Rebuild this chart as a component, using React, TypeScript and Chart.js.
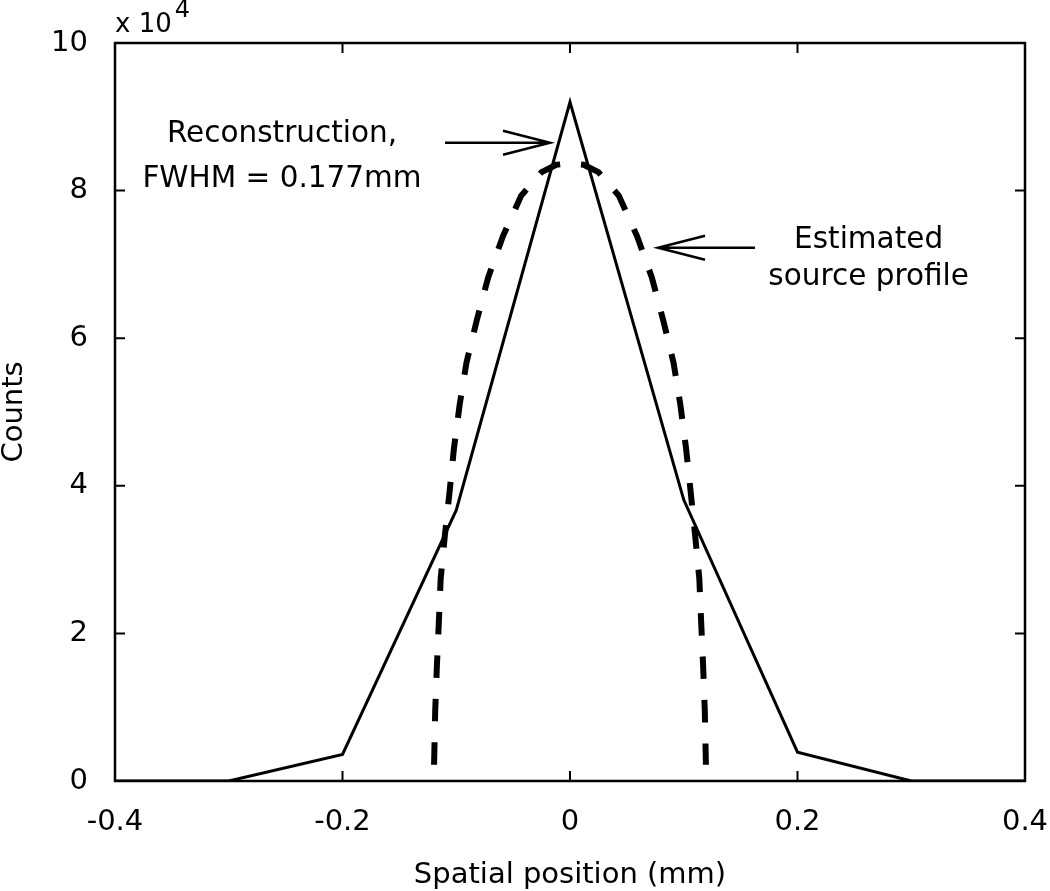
import React, { useEffect, useRef } from "react";
import { Chart, registerables } from "chart.js";

Chart.register(...registerables);

// Reconstruction profile (solid)
const reconX = [-0.4, -0.3, -0.2, -0.1, 0, 0.1, 0.2, 0.3, 0.4];
const reconY = [0, 0, 3600, 36700, 92000, 38100, 3900, 0, 0];

// Estimated source profile (dashed)
const sourceX = [
  -0.1195, -0.1185, -0.117, -0.1152, -0.1137, -0.11, -0.1058, -0.102, -0.097, -0.091,
  -0.082, -0.072, -0.059, -0.043, -0.025, -0.012, 0,
  0.012, 0.025, 0.043, 0.059, 0.072, 0.082, 0.091, 0.097, 0.102, 0.106, 0.11, 0.1137,
  0.1152, 0.117, 0.1185, 0.1195,
];
const sourceY = [
  2200, 9500, 15700, 21900, 27400, 33300, 39300, 45100, 51000, 56700,
  62400, 68200, 73800, 79300, 82500, 83500, 83700,
  83500, 82500, 79300, 73800, 68200, 62400, 56700, 51000, 45100, 39300, 33300, 27400,
  21900, 15700, 9500, 2200,
];

const xTicks = [-0.4, -0.2, 0, 0.2, 0.4];
const yTicks = [0, 20000, 40000, 60000, 80000, 100000];

const xTitle = "Spatial position (mm)";
const yTitle = "Counts";
const reconLabel = ["Reconstruction,", "FWHM = 0.177mm"];
const sourceLabel = ["Estimated", "source profile"];

const FONT = "'DejaVu Sans', 'Liberation Sans', Arial, sans-serif";

export default function App() {
  const ref = useRef<HTMLCanvasElement | null>(null);

  useEffect(() => {
    document.body.style.margin = "0";
    const canvas = ref.current;
    if (!canvas) return;

    const overlay = {
      id: "overlay",
      afterDraw(chart: any) {
        const ctx = chart.ctx as CanvasRenderingContext2D;
        const { left, right, top, bottom } = chart.chartArea;
        const xs = chart.scales.x;
        const ys = chart.scales.y;
        ctx.save();
        ctx.strokeStyle = "#000";
        ctx.fillStyle = "#000";
        // frame
        ctx.lineWidth = 2.5;
        ctx.strokeRect(left, top, right - left, bottom - top);
        // inward ticks
        ctx.lineWidth = 2;
        const tl = 10;
        ctx.beginPath();
        for (const v of xTicks) {
          const px = xs.getPixelForValue(v);
          ctx.moveTo(px, bottom);
          ctx.lineTo(px, bottom - tl);
          ctx.moveTo(px, top);
          ctx.lineTo(px, top + tl);
        }
        for (const v of yTicks) {
          const py = ys.getPixelForValue(v);
          ctx.moveTo(left, py);
          ctx.lineTo(left + tl, py);
          ctx.moveTo(right, py);
          ctx.lineTo(right - tl, py);
        }
        ctx.stroke();

        // exponent label
        ctx.textAlign = "left";
        ctx.textBaseline = "alphabetic";
        ctx.font = `26px ${FONT}`;
        ctx.fillText("x 10", left, top - 11);
        const w = ctx.measureText("x 10").width;
        ctx.font = `24px ${FONT}`;
        ctx.fillText("4", left + w + 3, top - 26);

        // annotations
        ctx.font = `29.5px ${FONT}`;
        ctx.textAlign = "center";
        const rx = xs.getPixelForValue(-0.2532);
        ctx.fillText(reconLabel[0], rx, ys.getPixelForValue(86590));
        ctx.fillText(reconLabel[1], rx, ys.getPixelForValue(80490));
        const sx = xs.getPixelForValue(0.2625);
        ctx.fillText(sourceLabel[0], sx, ys.getPixelForValue(72180));
        ctx.fillText(sourceLabel[1], sx, ys.getPixelForValue(67210));

        // arrows
        const arrow = (x0: number, x1: number, yv: number) => {
          const px0 = xs.getPixelForValue(x0);
          const px1 = xs.getPixelForValue(x1);
          const py = ys.getPixelForValue(yv);
          const dir = Math.sign(px1 - px0);
          ctx.lineWidth = 2.5;
          ctx.beginPath();
          ctx.moveTo(px0, py);
          ctx.lineTo(px1, py);
          ctx.moveTo(px1 - dir * 47, py - 12);
          ctx.lineTo(px1, py);
          ctx.lineTo(px1 - dir * 47, py + 12);
          ctx.stroke();
        };
        arrow(-0.1099, -0.0176, 86490);
        arrow(0.1626, 0.0774, 72260);
        ctx.restore();
      },
    };

    const chart = new Chart(canvas, {
      type: "scatter",
      data: {
        datasets: [
          {
            data: sourceX.map((x, i) => ({ x, y: sourceY[i] })),
            showLine: true,
            borderColor: "#000",
            borderWidth: 6,
            borderDash: [22.5, 21],
            pointRadius: 0,
            tension: 0,
            fill: false,
          },
          {
            data: reconX.map((x, i) => ({ x, y: reconY[i] })),
            showLine: true,
            borderColor: "#000",
            borderWidth: 3,
            pointRadius: 0,
            tension: 0,
            fill: false,
          },
        ],
      },
      options: {
        responsive: false,
        animation: false,
        layout: { padding: { top: 43, right: 25, left: 0, bottom: 0 } },
        plugins: { legend: { display: false }, tooltip: { enabled: false } },
        scales: {
          x: {
            type: "linear",
            min: -0.4,
            max: 0.4,
            afterBuildTicks: (s: any) => {
              s.ticks = xTicks.map((v) => ({ value: v }));
            },
            afterFit: (s: any) => {
              s.height = 110;
              s.paddingLeft = 0;
              s.paddingRight = 0;
            },
            grid: { display: false, drawTicks: false },
            border: { display: false },
            ticks: {
              color: "#000",
              padding: 24,
              maxRotation: 0,
              font: { family: FONT, size: 29 },
              callback: (v: any) => (Math.abs(Number(v)) < 1e-9 ? "0" : Number(v).toFixed(1)),
            },
            title: {
              display: true,
              text: xTitle,
              color: "#000",
              font: { family: FONT, size: 29, lineHeight: 1 },
              padding: { top: 0, bottom: 1 },
            },
          },
          y: {
            type: "linear",
            min: 0,
            max: 100000,
            afterBuildTicks: (s: any) => {
              s.ticks = yTicks.map((v) => ({ value: v }));
            },
            afterFit: (s: any) => {
              s.width = 115;
              s.paddingTop = 0;
              s.paddingBottom = 0;
            },
            grid: { display: false, drawTicks: false },
            border: { display: false },
            ticks: {
              color: "#000",
              padding: 27,
              font: { family: FONT, size: 29 },
              callback: (v: any) => String(Math.round(Number(v) / 10000)),
            },
            title: {
              display: true,
              text: yTitle,
              color: "#000",
              font: { family: FONT, size: 29, lineHeight: 1 },
              padding: { top: 0, bottom: 0 },
            },
          },
        },
      },
      plugins: [overlay],
    });

    return () => chart.destroy();
  }, []);

  return <canvas ref={ref} width={1050} height={891} style={{ display: "block" }} />;
}
